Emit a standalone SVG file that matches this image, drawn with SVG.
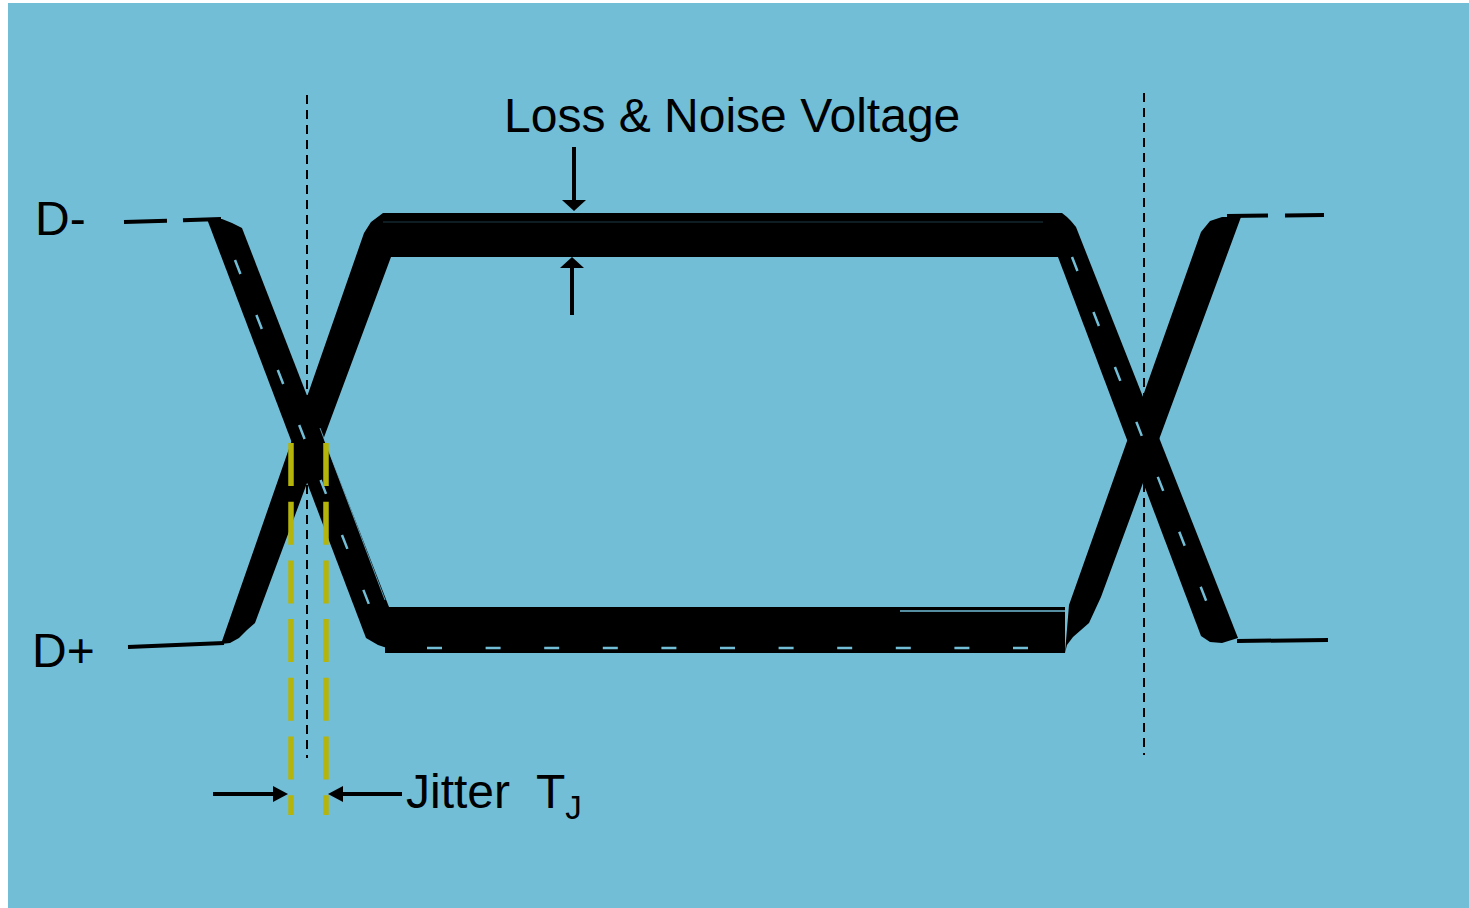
<svg xmlns="http://www.w3.org/2000/svg" width="1469" height="908" viewBox="0 0 1469 908">
<style>
.lbl{font-family:"Liberation Sans",Arial,sans-serif;font-size:48px;fill:#000}
.band{fill:#000}
.wire{stroke:#000;stroke-width:4;fill:none}
.vdash{stroke:#000;stroke-width:2;stroke-dasharray:9 6;fill:none}
.ydash{stroke:#B4B40B;stroke-width:5.5;stroke-dasharray:43 15.7;fill:none}
.ldash{stroke:#72BED7;stroke-width:2.5;fill:none}
.arr{stroke:#000;stroke-width:4;fill:none}
</style>
<rect x="0" y="0" width="1469" height="908" fill="#fff"/>
<rect x="8" y="3" width="1461" height="905" fill="#72BED7"/>

<g id="eye">
  <rect class="band" x="383" y="213" width="679" height="44"/>
  <rect class="band" x="385" y="607" width="680" height="46"/>
  <polygon class="band" points="207,219 222,219 232,223 242,228 389,607 387,648 378,645 366,638"/>
  <polygon class="band" points="221,644 364,233 371,222 383,213 391,257 255,623 247,630 239,638 230,643"/>
  <polygon class="band" points="1058,257 1062,213 1067,217 1071,221 1076,227 1238,638 1222,643 1210,642 1201,636"/>
  <polygon class="band" points="1065,653 1069,605 1201,232 1210,221 1222,217 1241,217 1101,597 1089,623 1081,630 1073,637 1067,645"/>
  <line class="ldash" x1="235" y1="260" x2="370" y2="607" stroke-dasharray="15 44"/>
  <line class="ldash" x1="1072" y1="257" x2="1207" y2="603" stroke-dasharray="15 44"/>
  <line class="ldash" x1="427" y1="648" x2="1045" y2="648" stroke-dasharray="15 43.6" stroke-width="1.5"/>
  <line x1="900" y1="611" x2="1066" y2="611" stroke="#72BED7" stroke-width="1.5"/>
  <line x1="320" y1="428" x2="385" y2="600" stroke="#72BED7" stroke-width="0.8"/>
  <line x1="383" y1="222" x2="1043" y2="222" stroke="#1a3a44" stroke-width="1"/>
</g>

<g id="wires">
  <line class="wire" x1="124" y1="222" x2="221" y2="219" stroke-dasharray="43 16"/>
  <line class="wire" x1="128" y1="647" x2="224" y2="643"/>
  <line class="wire" x1="1227" y1="216" x2="1324" y2="215" stroke-dasharray="41 17"/>
  <line class="wire" x1="1237" y1="641" x2="1328" y2="640"/>
</g>

<g id="markers">
  <line class="vdash" x1="307" y1="95" x2="307" y2="758"/>
  <line class="vdash" x1="1144" y1="93" x2="1144" y2="755"/>
  <line class="ydash" x1="291" y1="443" x2="291" y2="815"/>
  <line class="ydash" x1="326" y1="443" x2="326" y2="815"/>
</g>

<g id="connectors">
  <line class="arr" x1="574" y1="147" x2="574" y2="201"/>
  <polygon points="562,200 586,200 574,211" fill="#000"/>
  <line class="arr" x1="572" y1="267" x2="572" y2="315"/>
  <polygon points="560,268 584,268 572,257" fill="#000"/>
  <line class="arr" x1="213" y1="794" x2="274" y2="794"/>
  <polygon points="273,786 273,802 288,794" fill="#000"/>
  <line class="arr" x1="342" y1="794" x2="402" y2="794"/>
  <polygon points="328,794 343,786 343,802" fill="#000"/>
</g>

<g id="labels">
  <text class="lbl" x="504" y="132" font-size="48.6">Loss &amp; Noise Voltage</text>
  <text class="lbl" x="35" y="235">D-</text>
  <text class="lbl" x="32" y="667">D+</text>
  <text class="lbl" x="406" y="808">Jitter<tspan x="536">T</tspan><tspan font-size="33" dy="11">J</tspan></text>
</g>
</svg>
